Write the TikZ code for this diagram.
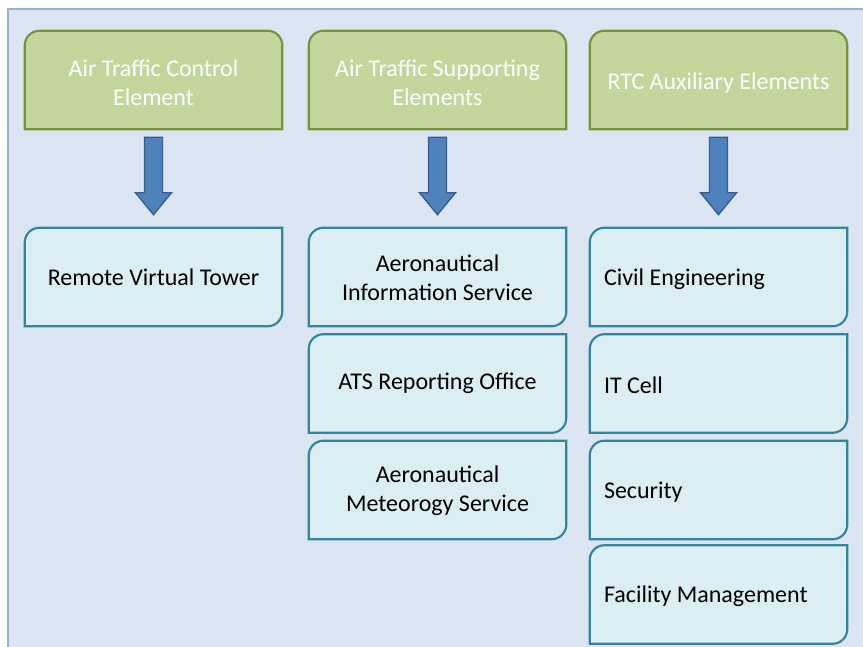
\documentclass[tikz,border=0pt]{standalone}
\usepackage{fontspec}
\setmainfont{Carlito}
\usetikzlibrary{calc}
\definecolor{bgfill}{HTML}{DCE6F2}
\definecolor{bgline}{HTML}{95B3D7}
\definecolor{gfill}{HTML}{C3D69B}
\definecolor{gline}{HTML}{77933C}
\definecolor{bfill}{HTML}{DAEEF3}
\definecolor{bline}{HTML}{31859C}
\definecolor{afill}{HTML}{4F81BD}
\definecolor{aline}{HTML}{385D8A}
\tikzset{
  boxbase/.style={minimum width=192.75pt, minimum height=73.5pt, inner sep=0pt, draw=none,
     font=\fontsize{18}{21.75}\selectfont, align=center},
  gnode/.style={boxbase, text=white},
  bnode/.style={boxbase, text=black},
  lefttext/.style={font=\fontsize{18}{21.75}\selectfont, anchor=west, inner sep=0pt},
  gbox/.style={fill=gfill, draw=gline, line width=1.6pt},
  bbox/.style={fill=bfill, draw=bline, line width=1.6pt},
  bigarrow/.style={fill=afill, draw=aline, line width=1pt, line join=miter},
  bgrect/.style={fill=bgfill, draw=bgline, line width=1.5pt}
}
\newcommand{\greenbox}[1]{%
  \draw[gbox] (#1.south west) -- ([yshift=-11pt]#1.north west)
    arc[start angle=180,end angle=90,radius=11pt] -- ([xshift=-11pt]#1.north east)
    arc[start angle=90,end angle=0,radius=11pt] -- (#1.south east) -- cycle;}
\newcommand{\bluebox}[1]{%
  \draw[bbox] (#1.south west) -- ([yshift=-11pt]#1.north west)
    arc[start angle=180,end angle=90,radius=11pt] -- (#1.north east)
    -- ([yshift=11pt]#1.south east)
    arc[start angle=0,end angle=-90,radius=11pt] -- cycle;}
\newcommand{\blockarrow}[2]{%
  \coordinate (s#1) at ([yshift=-6pt]#1.south);
  \coordinate (t#1) at ([yshift=9.75pt]#2.north);
  \draw[bigarrow] ([xshift=-6.75pt]s#1) -- ([xshift=-6.75pt,yshift=16.5pt]t#1)
    -- ([xshift=-13.5pt,yshift=16.5pt]t#1) -- (t#1)
    -- ([xshift=13.5pt,yshift=16.5pt]t#1) -- ([xshift=6.75pt,yshift=16.5pt]t#1)
    -- ([xshift=6.75pt]s#1) -- cycle;}
\begin{document}
\begin{tikzpicture}[x=0.75pt,y=-0.75pt]
\useasboundingbox (0,0) rectangle (863,646);
\clip (0,0) rectangle (863,646);
\fill[white] (0,0) rectangle (863,646);
\draw[bgrect] (8,9) rectangle (880,660);

% green headers
\node[gnode] (g1) at (153.5,80) {};
\node[gnode] (g2) at (437.5,80) {};
\node[gnode] (g3) at (718.5,80) {};

% blue boxes
\node[bnode] (b11) at (153.5,277) {};
\node[bnode] (b21) at (437.5,277) {};
\node[bnode] (b22) at (437.5,383.5) {};
\node[bnode] (b23) at (437.5,490) {};
\node[bnode] (b31) at (718.5,277) {};
\node[bnode] (b32) at (718.5,383.5) {};
\node[bnode] (b33) at (718.5,490) {};
\node[bnode] (b34) at (718.5,594.5) {};

\greenbox{g1}\greenbox{g2}\greenbox{g3}
\foreach \n in {b11,b21,b22,b23,b31,b32,b33,b34}{\bluebox{\n}}

\node[gnode] (tg1) at ([yshift=-2.25pt]g1) {Air Traffic Control\\Element};
\node[gnode] (tg2) at ([yshift=-2.25pt]g2) {Air Traffic Supporting\\Elements};
\node[gnode] (tg3) at ([yshift=-2.25pt]g3) {RTC Auxiliary Elements};

\node[bnode] (tb11) at (b11) {Remote Virtual Tower};
\node[bnode] (tb21) at ([yshift=-0.75pt]b21) {Aeronautical\\Information Service};
\node[bnode] (tb22) at (b22) {ATS Reporting Office};
\node[bnode] (tb23) at ([yshift=-0.75pt]b23) {Aeronautical\\Meteorogy Service};
\node[lefttext] (tb31) at ([xshift=10.5pt,yshift=-1.5pt]b31.west) {Civil Engineering};
\node[lefttext] (tb32) at ([xshift=10.5pt,yshift=-1pt]b32.west) {IT Cell};
\node[lefttext] (tb33) at ([xshift=10.5pt,yshift=-1.5pt]b33.west) {Security};
\node[lefttext] (tb34) at ([xshift=10.5pt,yshift=-1.5pt]b34.west) {Facility Management};

\blockarrow{g1}{b11}
\blockarrow{g2}{b21}
\blockarrow{g3}{b31}
\end{tikzpicture}
\end{document}
